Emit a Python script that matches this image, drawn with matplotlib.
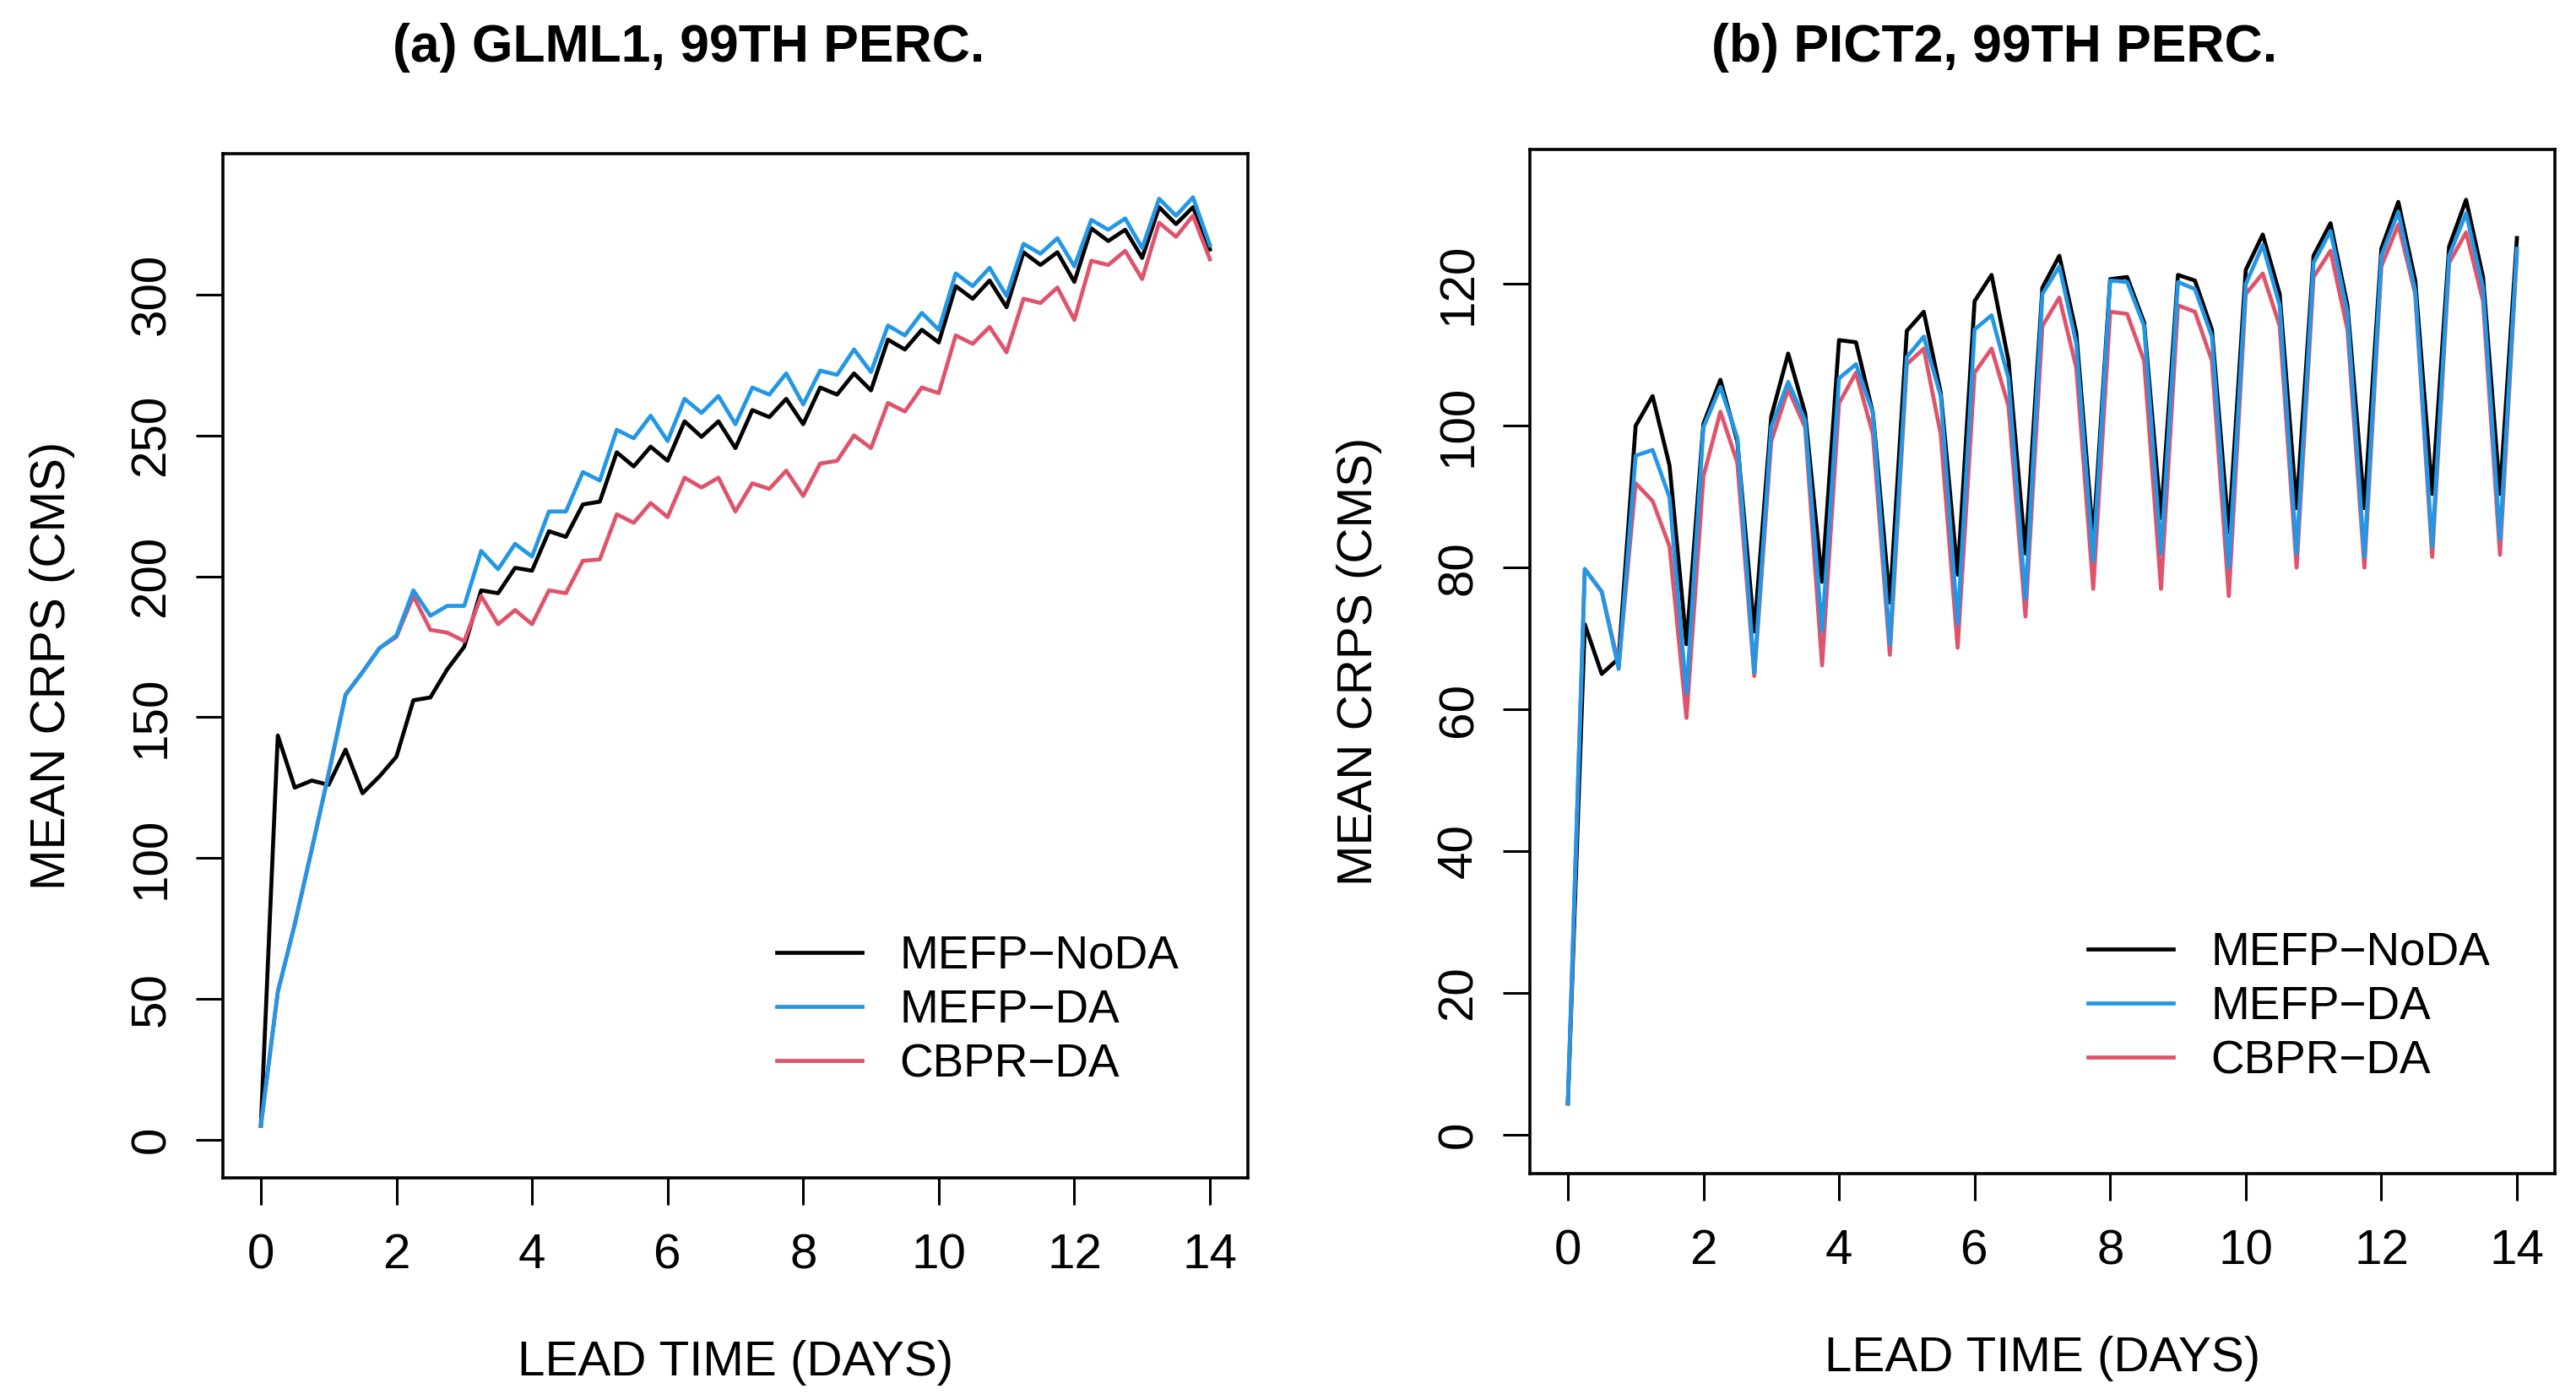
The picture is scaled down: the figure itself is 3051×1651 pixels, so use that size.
import matplotlib
matplotlib.use("Agg")
import matplotlib.pyplot as plt
import numpy as np

plt.rcParams['font.family'] = ['Liberation Sans', 'DejaVu Sans']

# lead times, every 6 hours out to 14 days
lead_time = np.arange(0, 14.01, 0.25)

series_names = ["MEFP\u2212NoDA", "MEFP\u2212DA", "CBPR\u2212DA"]
series_colors = ["black", "#2297E6", "#DF536B"]

# (a) GLML1
glml1_noda = [5, 143.5, 125, 127.5, 126, 138.5, 123, 129,
              136, 156, 157, 167, 175, 195, 194, 203,
              202, 216, 214, 225.5, 226.5, 244, 239, 246,
              241, 255, 249.5, 255, 245.5, 259, 256.5, 263,
              254, 267, 264.5, 272, 266, 284, 280.5, 287.5,
              283, 303, 298.5, 305, 295.5, 315, 310.5, 315,
              304.5, 323.5, 319, 323, 313, 331, 325, 331, 316]
glml1_da = [5, 52.5, 76.5, 103, 130, 158, 166, 174.5,
            179, 195, 186, 189.5, 189.5, 209, 202.5, 211.5,
            207, 223, 223, 237, 234, 252, 249, 257,
            248, 263, 258, 264, 254, 267, 264.5, 272,
            261, 273, 271.5, 280.5, 272.5, 289, 285.5, 293.5,
            287.5, 307.5, 303, 309.5, 299.5, 318, 314.5, 320,
            310, 326.5, 323, 327, 316.5, 334, 328, 334.5, 317.5]
glml1_cbpr = [5, 52.5, 76.5, 103, 130, 158, 166, 174.5,
              178.5, 193, 181, 180, 177, 193, 183, 188,
              183, 195, 194, 205.5, 206, 222, 219, 226,
              221, 235, 231.5, 235, 223, 233, 231, 237.5,
              228.5, 240, 241, 250, 245.5, 261.5, 258.5, 267,
              265, 285.5, 282.5, 288.5, 279.5, 298.5, 297, 302.5,
              291, 312, 310.5, 315.5, 305.5, 325.5, 320.5, 328, 312.5]

# (b) PICT2
pict2_noda = [4.4, 72, 65, 67.2, 100, 104.2, 94.4, 69.2,
              100.3, 106.5, 97.8, 71, 101.3, 110.2, 101.8, 78,
              112.1, 111.8, 101.8, 75.1, 113.4, 116.1, 104.7, 79,
              117.6, 121.3, 109.2, 82, 119.5, 124, 113.1, 84,
              120.7, 121, 114.6, 87, 121.3, 120.5, 113.6, 85,
              122, 127, 118.6, 88.4, 124, 128.6, 117, 88.4,
              125, 131.6, 120.5, 90.4, 125.3, 131.9, 121, 90.4, 126.5]
pict2_da = [4.4, 79.8, 76.6, 65.7, 95.8, 96.6, 89.9, 62.2,
            99.8, 105.5, 98.3, 65.2, 99.8, 106.2, 100.8, 71.1,
            106.7, 108.7, 101.8, 69.2, 109.7, 112.6, 104.2, 72.1,
            113.6, 115.6, 106.7, 75.6, 118.6, 122.5, 111.6, 81,
            120.5, 120.3, 114.1, 82, 120.3, 119.3, 112.6, 80,
            120, 125.5, 117, 82, 123, 127.5, 116, 81.5,
            124, 130.2, 119, 83, 124, 130, 119.5, 84, 125]
pict2_cbpr = [4.4, 79.8, 76.6, 66.2, 91.9, 89.4, 83, 58.8,
              92.9, 102, 94.8, 64.7, 97.8, 105.2, 99.8, 66.2,
              103.2, 107.5, 98.8, 67.7, 108.7, 110.9, 98.8, 68.7,
              107.5, 110.9, 102.8, 73.1, 114.1, 118.1, 108.2, 77,
              116.1, 115.8, 109.2, 77, 117, 116.1, 109.2, 76,
              118.6, 121.5, 114.1, 80, 121, 124.7, 113.6, 80,
              122.5, 128.4, 118.6, 81.5, 123, 127.3, 117.6, 81.8, 124.5]

x_ticks = [0, 2, 4, 6, 8, 10, 12, 14]

W, H = 3051, 1651
fig = plt.figure(figsize=(W / 100, H / 100), dpi=100)


def px_box(left, top, right, bottom):
    return [left / W, 1 - bottom / H, (right - left) / W, (bottom - top) / H]


def draw_panel(ax, noda, da, cbpr, ylim, yticks, legend_anchor):
    # black first, then red, blue on top
    h_noda, = ax.plot(lead_time, noda, color=series_colors[0], lw=3.4)
    h_cbpr, = ax.plot(lead_time, cbpr, color=series_colors[2], lw=3.4)
    h_da, = ax.plot(lead_time, da, color=series_colors[1], lw=3.4)

    ax.set_xlim(-0.56, 14.56)
    ax.set_ylim(*ylim)
    ax.set_xticks(x_ticks)
    ax.set_yticks(yticks)
    ax.set_yticklabels([str(v) for v in yticks], rotation=90, va="center")
    ax.tick_params(axis="both", direction="out", length=23, width=2.2,
                   labelsize=42)
    ax.tick_params(axis="x", pad=24)
    ax.tick_params(axis="y", pad=18)
    for sp in ax.spines.values():
        sp.set_linewidth(2.6)

    ax.set_xlabel("LEAD TIME (DAYS)", fontsize=42, labelpad=52)
    ax.set_ylabel("MEAN CRPS (CMS)", fontsize=42, labelpad=46)

    ax.legend([h_noda, h_da, h_cbpr], series_names, loc="center left",
              bbox_to_anchor=legend_anchor, bbox_transform=fig.transFigure,
              frameon=False, fontsize=39.5, handlelength=1.85,
              handletextpad=0.8, labelspacing=0.22, borderpad=0,
              borderaxespad=0)


ax_a = fig.add_axes(px_box(264, 182, 1478, 1395))
draw_panel(ax_a, glml1_noda, glml1_da, glml1_cbpr,
           (-13.5, 350), [0, 50, 100, 150, 200, 250, 300],
           (920 / W, 1 - 1197 / H))

ax_b = fig.add_axes(px_box(1812, 177, 3026, 1390))
draw_panel(ax_b, pict2_noda, pict2_da, pict2_cbpr,
           (-5.5, 139), [0, 20, 40, 60, 80, 100, 120],
           (2473 / W, 1 - 1193 / H))

fig.text(816 / W, 1 - 57 / H, "(a) GLML1, 99TH PERC.", fontsize=45,
         fontweight="bold", ha="center", va="center")
fig.text(2362 / W, 1 - 57 / H, "(b) PICT2, 99TH PERC.", fontsize=45,
         fontweight="bold", ha="center", va="center")

fig.savefig("out.png", dpi=100)
